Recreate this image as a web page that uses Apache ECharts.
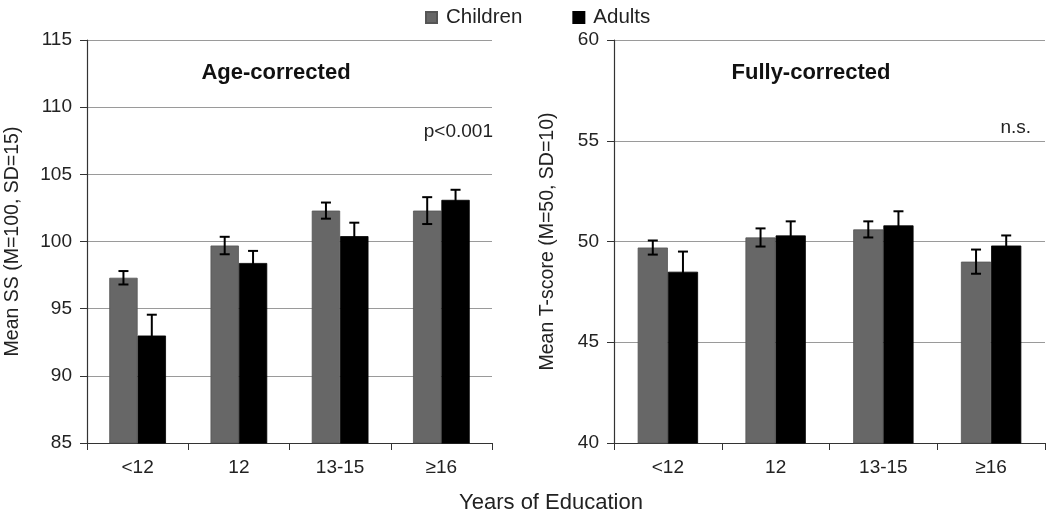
<!DOCTYPE html>
<html>
<head>
<meta charset="utf-8">
<script src="https://cdn.jsdelivr.net/npm/echarts@6/dist/echarts.min.js"></script>
<style>html,body{margin:0;padding:0;background:#fff}#c{width:1050px;height:516px}</style>
</head>
<body>
<div id="c"></div>
<script>
const categories = ['<12', '12', '13-15', '≥16'];
const seriesNames = ['Children', 'Adults'];
// Age-corrected (standard score)
const ageChildren = [97.3, 99.7, 102.3, 102.3];
const ageChildrenErr = [0.5, 0.65, 0.6, 1.0];
const ageAdults = [93.0, 98.4, 100.4, 103.1];
const ageAdultsErr = [1.55, 0.9, 1.0, 0.75];
// Fully-corrected (T-score)
const fullChildren = [49.7, 50.2, 50.6, 49.0];
const fullChildrenErr = [0.35, 0.45, 0.4, 0.6];
const fullAdults = [48.5, 50.3, 50.8, 49.8];
const fullAdultsErr = [1.0, 0.7, 0.7, 0.5];
const leftTicks = [85, 115, 5];
const rightTicks = [40, 60, 5];

const GREY = '#676767';
const BLACK = '#000000';
const BW = 0.28;
const font = '"Liberation Sans", Arial, sans-serif';

function errSeries(vals, errs, gi, side) {
  return {
    type: 'custom', xAxisIndex: gi, yAxisIndex: gi, z: 10, silent: true,
    data: vals.map((v, i) => [i, v, errs[i]]),
    renderItem: function (params, api) {
      const i = api.value(0), v = api.value(1), e = api.value(2);
      const band = api.size([1, 0])[0];
      const off = side * band * BW / 2;
      const top = api.coord([i, v + e]);
      const bot = api.coord([i, v - e]);
      const x = top[0] + off;
      const cap = 5;
      const st = { stroke: '#000', lineWidth: 2 };
      return { type: 'group', children: [
        { type: 'line', shape: { x1: x, y1: top[1], x2: x, y2: bot[1] }, style: st },
        { type: 'line', shape: { x1: x - cap, y1: top[1], x2: x + cap, y2: top[1] }, style: st },
        { type: 'line', shape: { x1: x - cap, y1: bot[1], x2: x + cap, y2: bot[1] }, style: st }
      ]};
    }
  };
}

function xAxis(gi) {
  return {
    type: 'category', gridIndex: gi, data: categories,
    axisLine: { lineStyle: { color: '#333', width: 1.2 } },
    axisTick: { show: true, length: 7, lineStyle: { color: '#333' } },
    axisLabel: { color: '#222', fontSize: 19, fontFamily: font, margin: 15 }
  };
}
function yAxis(gi, t, name, gap) {
  return {
    type: 'value', gridIndex: gi, min: t[0], max: t[1], interval: t[2],
    name: name, nameLocation: 'middle', nameGap: gap,
    nameTextStyle: { color: '#222', fontSize: 19.5, fontFamily: font },
    axisLine: { show: true, lineStyle: { color: '#333', width: 1.2 } },
    axisTick: { show: true, length: 7, lineStyle: { color: '#333' } },
    axisLabel: { color: '#222', fontSize: 19, fontFamily: font, margin: 15 },
    splitLine: { show: true, lineStyle: { color: '#9a9a9a', width: 1.2 } }
  };
}
function bar(name, vals, gi, color) {
  return {
    type: 'bar', name: name, xAxisIndex: gi, yAxisIndex: gi, data: vals,
    barWidth: (BW * 100) + '%', barGap: '0%',
    itemStyle: { color: color, borderColor: color === GREY ? '#555' : '#000', borderWidth: 0.8 }
  };
}

const chart = echarts.init(document.getElementById('c'), null, { renderer: 'canvas' });
chart.setOption({
  animation: false,
  backgroundColor: '#fff',
  legend: {
    data: seriesNames, top: 2, left: 420, itemWidth: 11, itemHeight: 11, itemGap: 50,
    icon: 'rect',
    textStyle: { color: '#222', fontSize: 20.5, fontFamily: font, padding: [0, 0, 0, 4] }
  },
  grid: [
    { left: 87, top: 40, width: 405, height: 403 },
    { left: 614, top: 40, width: 431, height: 403 }
  ],
  xAxis: [xAxis(0), xAxis(1)],
  yAxis: [
    yAxis(0, leftTicks, 'Mean SS (M=100, SD=15)', 64),
    yAxis(1, rightTicks, 'Mean T-score (M=50, SD=10)', 56)
  ],
  series: [
    bar('Children', ageChildren, 0, GREY),
    bar('Adults', ageAdults, 0, BLACK),
    bar('Children', fullChildren, 1, GREY),
    bar('Adults', fullAdults, 1, BLACK),
    errSeries(ageChildren, ageChildrenErr, 0, -1),
    errSeries(ageAdults, ageAdultsErr, 0, 1),
    errSeries(fullChildren, fullChildrenErr, 1, -1),
    errSeries(fullAdults, fullAdultsErr, 1, 1)
  ],
  graphic: [
    { type: 'text', x: 276, y: 73, style: { text: 'Age-corrected', font: 'bold 22px ' + font, fill: '#111', textAlign: 'center', textVerticalAlign: 'middle' } },
    { type: 'text', x: 811, y: 73, style: { text: 'Fully-corrected', font: 'bold 22px ' + font, fill: '#111', textAlign: 'center', textVerticalAlign: 'middle' } },
    { type: 'text', x: 493, y: 132, style: { text: 'p<0.001', font: '19px ' + font, fill: '#222', textAlign: 'right', textVerticalAlign: 'middle' } },
    { type: 'text', x: 1031, y: 128, style: { text: 'n.s.', font: '19px ' + font, fill: '#222', textAlign: 'right', textVerticalAlign: 'middle' } },
    { type: 'text', x: 551, y: 503, style: { text: 'Years of Education', font: '22px ' + font, fill: '#222', textAlign: 'center', textVerticalAlign: 'middle' } }
  ]
});
</script>
</body>
</html>
